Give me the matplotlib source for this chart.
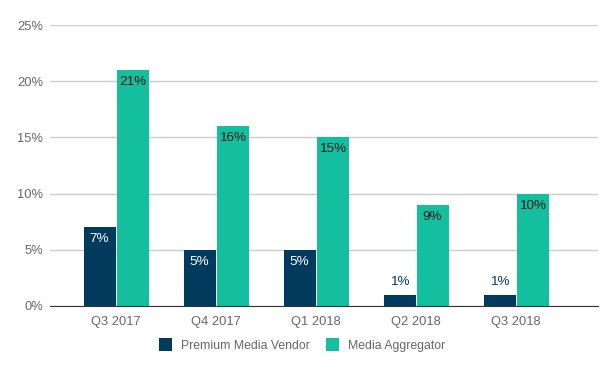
import matplotlib.pyplot as plt
import numpy as np

plt.rcParams['font.family'] = ['Liberation Sans', 'DejaVu Sans']

quarters = ["Q3 2017", "Q4 2017", "Q1 2018", "Q2 2018", "Q3 2018"]
vendor = [7, 5, 5, 1, 1]
aggregator = [21, 16, 15, 9, 10]

navy = "#003a5c"
teal = "#14bf9f"
grey = "#666666"

W, H = 604, 371
fig = plt.figure(figsize=(W / 100, H / 100), dpi=100)
ax = fig.add_axes([50 / W, (H - 306) / H, 548 / W, 281 / H])

x = np.arange(len(quarters))
bw = 0.32
off = 0.165
b1 = ax.bar(x - off, vendor, bw, color=navy, label="Premium Media Vendor", zorder=3)
b2 = ax.bar(x + off, aggregator, bw, color=teal, label="Media Aggregator", zorder=3)

# value labels: inside the bar top, or above it when the bar is too short
for xi, v in zip(x, vendor):
    if v >= 3:
        ax.annotate(f"{v}%", (xi - off, v), xytext=(0, -12), textcoords="offset pixels",
                    ha="center", va="center", color="white", fontsize=9.7, zorder=4)
    else:
        ax.annotate(f"{v}%", (xi - off, v), xytext=(0, 13), textcoords="offset pixels",
                    ha="center", va="center", color=navy, fontsize=9.7, zorder=4)
for xi, v in zip(x, aggregator):
    ax.annotate(f"{v}%", (xi + off, v), xytext=(0, -12), textcoords="offset pixels",
                ha="center", va="center", color="#1a1a1a", fontsize=9.7, zorder=4)

ax.set_xlim(-0.66, 4.82)
ax.set_ylim(0, 25)
ax.set_yticks([0, 5, 10, 15, 20, 25])
ax.set_yticklabels([f"{t}%" for t in [0, 5, 10, 15, 20, 25]])
ax.set_xticks(x)
ax.set_xticklabels(quarters)
ax.tick_params(length=0, colors=grey, labelsize=9.3)
ax.tick_params(axis="y", pad=5)
ax.tick_params(axis="x", pad=7)
ax.grid(axis="y", color="#cccccc", linewidth=1, zorder=0)
for s in ["top", "right", "left"]:
    ax.spines[s].set_visible(False)
ax.spines["bottom"].set_color("#333333")
ax.spines["bottom"].set_zorder(5)

leg = fig.legend(handles=[b1, b2], loc="center", bbox_to_anchor=(302 / W, (H - 345) / H),
                 ncol=2, frameon=False, fontsize=8.8, handlelength=1.06, handleheight=1.26,
                 columnspacing=1.3, handletextpad=0.74)
for t in leg.get_texts():
    t.set_color(grey)

fig.savefig("out.png", dpi=100)
